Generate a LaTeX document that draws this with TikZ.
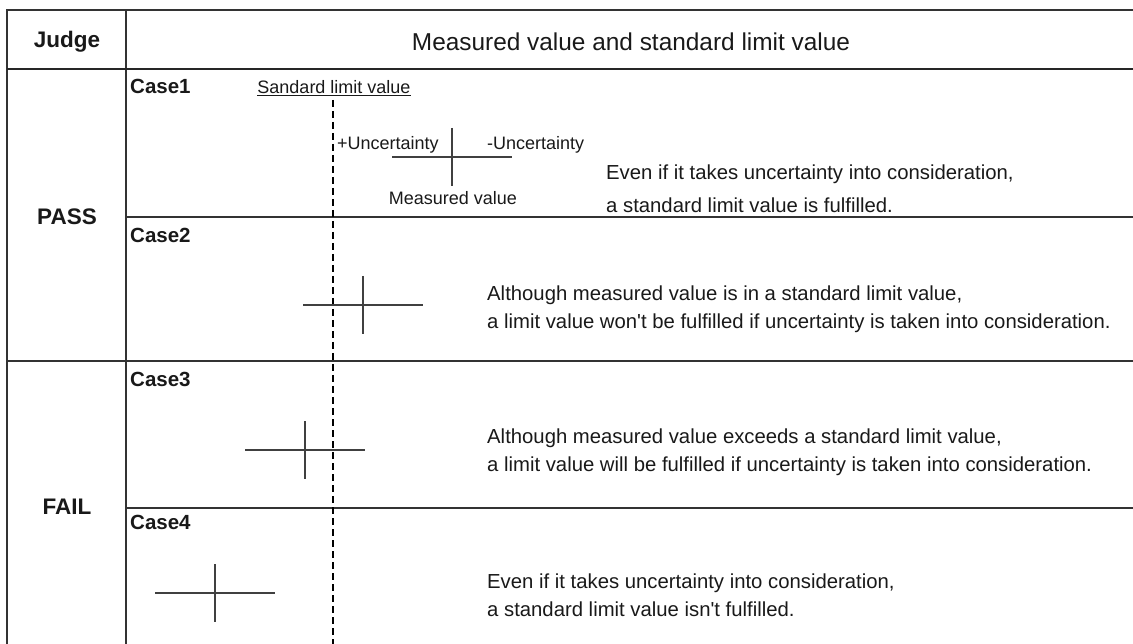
\documentclass[tikz,border=0pt]{standalone}
\usepackage{fontspec}
\setmainfont{Liberation Sans}
\usetikzlibrary{positioning}

% one measured value with its uncertainty band
\newcommand{\measpoint}[2]{%
  \draw[bar] (#1-60,#2) -- (#1+60,#2);
  \draw[bar] (#1,#2-29) -- (#1,#2+29);}

\begin{document}
\begin{tikzpicture} [
       x=1pt, y=-1pt,
       grid/.style={draw=black!80, line width=1.5pt},
       headline/.style={draw=black!85, line width=2.8pt},
       limit/.style={draw=black, line width=2.8pt, dash pattern=on 7pt off 4pt},
       bar/.style={draw=black!75, line width=1.5pt},
       judge/.style={font=\fontsize{22.5}{27}\selectfont\bfseries, text=black!90},
       casename/.style={font=\fontsize{20.5}{24}\selectfont\bfseries, anchor=west, inner sep=0pt, text=black!90},
       remark/.style={font=\fontsize{20.3}{28}\selectfont, align=left, anchor=west, inner sep=0pt, text=black!90},
       small/.style={font=\fontsize{18}{22}\selectfont, inner sep=0pt, text=black!90},
       ]
       \useasboundingbox (0,0) rectangle (1133,644);
       % table
       \draw[grid] (1133,10) -- (7,10) -- (7,644);
       \draw[grid] (126,10) -- (126,644);
       \draw[headline] (7,69) -- (1133,69);
       \draw[grid] (126,217) -- (1133,217);
       \draw[grid] (7,361) -- (1133,361);
       \draw[grid] (126,508) -- (1133,508);
       % standard limit value
       \draw[limit] (333,100) -- (333,644);

       \node (judgehead) [judge] at (67,42) {Judge};
       \node (valuehead) [font=\fontsize{24.4}{28}\selectfont, text=black!90] at (631,42) {Measured value and standard limit value};
       \node (pass) [judge] at (67,217) {PASS};
       \node (fail) [judge] at (67,507) {FAIL};

       \node (case1) [casename] at (130,86) {Case1};
       \node (case2) [casename] at (130,235) {Case2};
       \node (case3) [casename] at (130,379) {Case3};
       \node (case4) [casename] at (130,522) {Case4};

       \node (stdlimit) [small] at (334,88) {\underline{Sandard limit value}};
       \node (plusunc) [small, anchor=west] at (337,145) {+Uncertainty};
       \node (minusunc) [small, anchor=west] at (487,145) {-Uncertainty};
       \node (measval) [small] at (453,198) {Measured value};

       \measpoint{452}{157}
       \measpoint{363}{305}
       \measpoint{305}{450}
       \measpoint{215}{593}

       \node (remark1) [remark] at (606,189) {Even if it takes uncertainty into consideration,\\[5pt]a standard limit value is fulfilled.};
       \node (remark2) [remark] at (487,309) {Although measured value is in a standard limit value,\\a limit value won\textquotesingle t be fulfilled if uncertainty is taken into consideration.};
       \node (remark3) [remark] at (487,452) {Although measured value exceeds a standard limit value,\\a limit value will be fulfilled if uncertainty is taken into consideration.};
       \node (remark4) [remark] at (487,595) {Even if it takes uncertainty into consideration,\\a standard limit value isn\textquotesingle t fulfilled.};
\end{tikzpicture}
\end{document}
